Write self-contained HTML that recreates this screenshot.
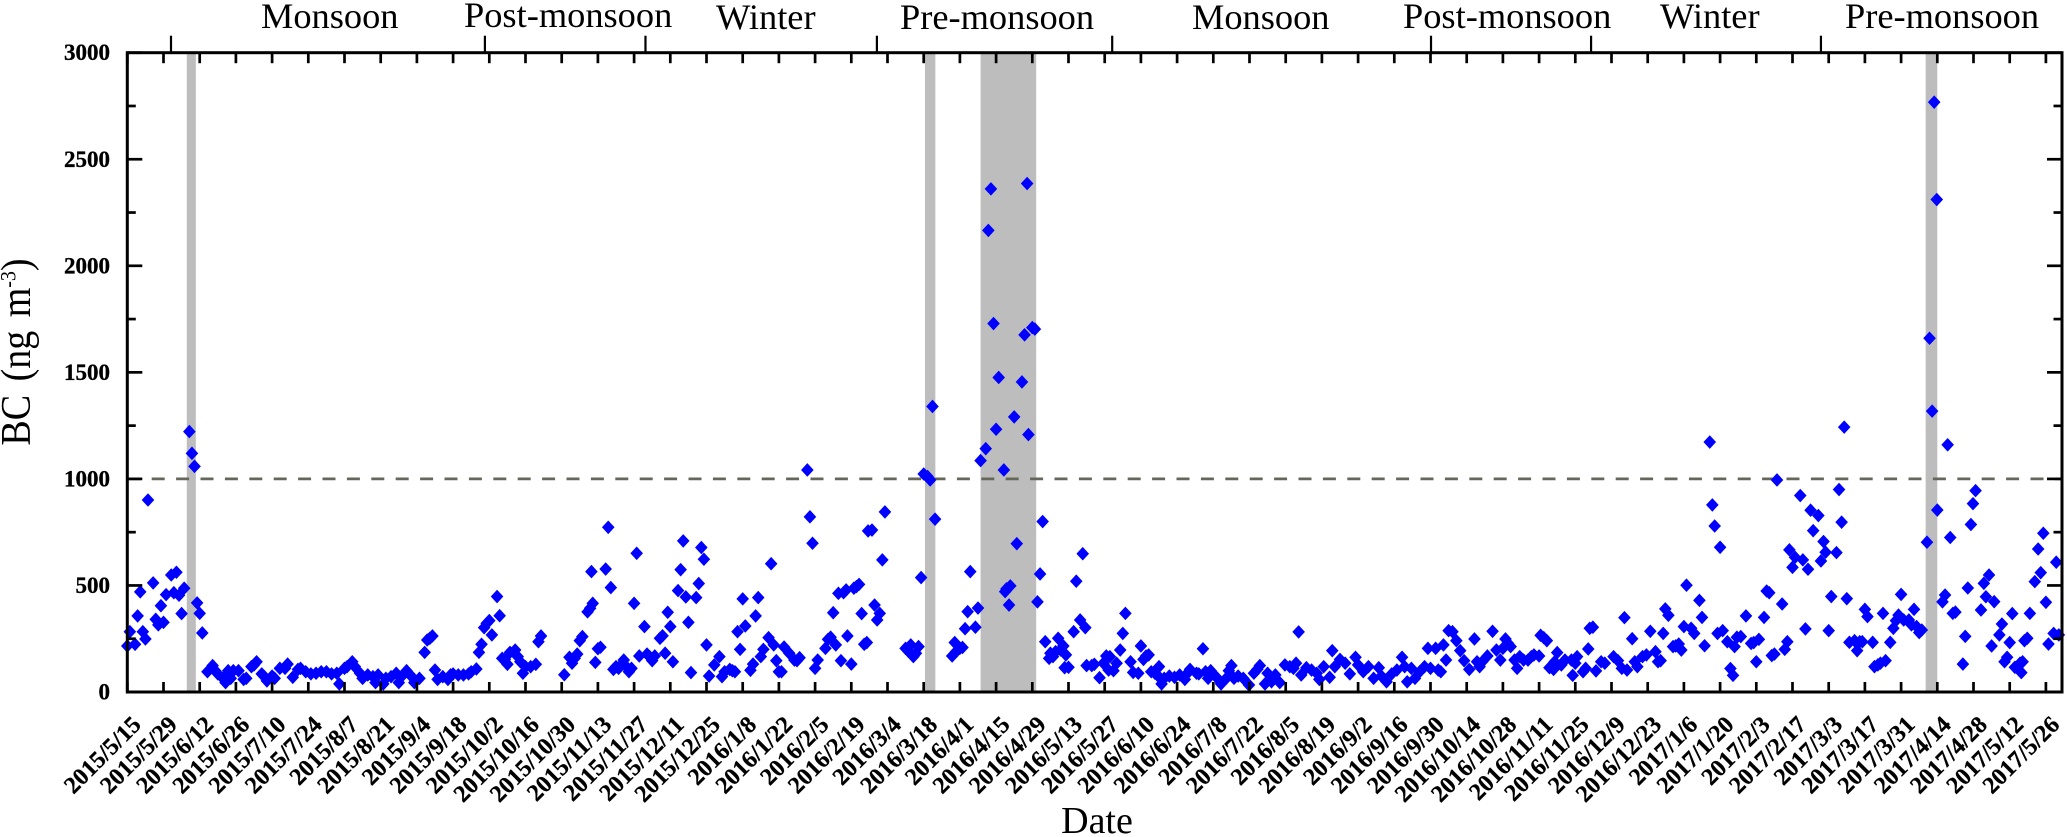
<!DOCTYPE html>
<html>
<head>
<meta charset="utf-8">
<title>BC time series</title>
<style>
html,body{margin:0;padding:0;background:#fff;}
svg{display:block;font-family:"Liberation Serif",serif;}
</style>
</head>
<body>
<svg id="chart" xmlns="http://www.w3.org/2000/svg" width="2067" height="837" viewBox="0 0 2067 837">
<g id="bands"></g>
<g id="threshold"></g>
<g id="points"></g>
<g id="axes"></g>
<g id="labels"></g>
<g font-size="36.4" fill="#000">
<text x="261" y="28">Monsoon</text>
<text x="464" y="27">Post-monsoon</text>
<text x="716" y="29">Winter</text>
<text x="900" y="29">Pre-monsoon</text>
<text x="1192" y="29">Monsoon</text>
<text x="1403" y="28">Post-monsoon</text>
<text x="1660" y="28">Winter</text>
<text x="1845" y="28">Pre-monsoon</text>
</g>
<text transform="translate(30,352) rotate(-90) scale(1,1.12)" text-anchor="middle" font-size="38" word-spacing="4" xml:space="preserve">BC (ng m<tspan font-size="20" dy="-13">-3</tspan><tspan dy="13">)</tspan></text>
<text x="1097" y="833" text-anchor="middle" font-size="38">Date</text>
</svg>
<script>
const days = [
0,1,3,4,5,6,7,8,10,11,12,13,14,15,17,18,19,20,21,22,24,25,26,27,28,29,
31,33,34,35,37,38,39,40,41,43,45,46,48,49,50,52,53,54,56,57,59,61,62,64,66,67,69,71,73,75,77,79,81,82,84,85,87,88,90,91,93,95,96,97,99,100,102,104,105,106,108,110,111,113,
115,116,117,118,119,120,122,124,125,126,128,130,132,133,135,
136,137,138,139,140,141,143,144,145,146,147,148,150,151,152,153,154,156,158,159,160,
169,171,172,173,174,175,176,178,179,179.5,180,181,182,183,185,186,187,
188,189,190,191,192,193,194,195,196,197,198,200,201,202,203,204,206,207,208,209,210,211,
213,214,215,216,217,218,220,221,222,223,224,225,227,229,230,231,233,234,235,236,237,238,239,
241,242,243,244,245,246,248,249,250,251,252,
253,254,256,258,259,260,263,264,265,266,267,270,271,272,273,274,
275,276,277,278,278.5,280,281,282,283,284,285,286,286.5,288,289,290,291,292,293,
301,302,303,304,305,306,307,308,309.5,310.5,311.4,312.4,
319,320,320.5,322,323,324,325,326,328,329,
330,332,333,334,335,336,337,339,339.5,340,341,341.5,343,344,346,347,348,348.5,350,351,
352,353,354,355,356.5,357,358,359,360,361,362,362.5,363,364,366,367,368.5,369.5,370.5,371,373,374,376,377.5,378.6,379.5,
380,381.4,382.6,384,385,386,388,389,391,392,393,394,395,396,397.4,
399,399.5,400,401,403,405,407,409,410,411,413.5,414.4,416,417,418,
419,421,423,425,426,427,428,429.6,431.6,433.8,435.7,437,438,440,441,
442.5,444,445.7,447.7,449.6,451,452,453,454,456,458,460,461,462.7,465,
466,467,469,471,472.8,475,476,478,480,482,484,485,487,489,491,
493,494,495,496.6,498,499.8,501.7,503,504,506,507,
508,509,510,511,512.5,514,515.5,517,519,521,522,523,524,526,528,
529.5,531,532,533,534,535,536.5,537.5,538.5,540,541.7,543,544,546,546.6,
547.8,549,550,551.6,552,553,554.6,556,558.5,559,560,560.7,563,564,565,
565.6,566.8,568,570,571.4,574.8,576.5,578,579,580,582,583,584,586,587.5,
589,591,592,593,594,594.8,596,597.8,598.8,600,601,602,603,604.8,606,
608,609,610,612,613,613.9,615,616,617,618.8,620,621,621.6,622.5,624,
626,628,629,630,631,633,634,635,636,637,638,640,641,642,642.8,
644,645,647,648,649,650,651,652,654,655,656,656.8,658,659,661,
662,663,664,665,666,668,669,670,671,672,673,675,675.7,677,678,
679,680,681.8,683,684,685,686,687,689,690,691,692,693,694,696,
697,698,698.8,699.8,700,702,703,704,705,706,707,709.9,710.8,711.8,713,
713.8,714.8,716.9,718,718.8,720,721,722,724,725,726,727,728,729,730,
732,732.5,733,733.7,734.8,735.8,737.7,739,740,741,742,743,745,746,747
];
const bcValues = [
216,283,224,357,470,283,249,901,512,341,315,405,327,457,549,466,562,454,368,487,1222,1120,1059,418,369,277,
95,124,100,85,64,44,100,64,100,100,59,64,119,127,142,85,72,52,75,64,111,111,131,69,106,111,95,85,88,95,95,85,88,38,111,119,142,119,88,64,80,72,44,80,38,64,72,88,44,72,100,72,44,64,
186,244,252,263,103,59,72,59,80,85,80,80,85,95,108,
186,224,302,322,335,268,448,358,158,153,130,186,197,166,142,88,119,119,130,236,263,
81,163,135,158,178,241,260,376,393,565,416,139,203,210,577,773,490,
106,119,111,127,150,119,95,111,416,651,169,307,178,166,147,169,252,264,182,374,307,142,
476,574,709,446,327,91,443,509,678,623,221,75,127,166,72,95,106,100,95,283,200,437,310,
102,131,357,443,166,200,255,602,221,147,95,
95,211,182,150,147,161,1042,822,698,111,150,205,247,257,372,221,
463,147,466,479,263,131,487,495,505,368,224,232,756,760,408,338,369,620,845,
205,192,221,166,182,213,537,1023,1011,995,1340,811,
169,232,189,205,209,297,377,565,304,394,
1086,1142,2166,2361,1729,1233,1476,1042,471,484,408,498,1291,696,1455,1676,2386,1208,1710,1703,
423,554,800,236,158,182,166,189,252,197,216,114,174,116,283,520,338,649,302,124,124,130,67,135,169,103,
166,100,135,197,275,369,142,92,88,216,153,169,174,95,88,
119,64,38,64,75,69,80,59,88,106,88,85,203,95,64,
100,72,38,64,100,124,64,75,64,33,88,106,124,38,88,
48,80,44,127,119,111,135,282,80,114,103,88,59,119,69,
194,119,153,135,85,163,127,95,119,64,114,75,48,85,103,
163,119,48,111,64,95,119,205,111,205,103,
95,221,150,288,283,241,194,147,106,249,142,119,142,169,285,
197,150,205,249,228,213,150,111,166,150,150,166,174,169,266,
255,241,114,106,142,185,127,150,150,78,135,166,95,111,202,
299,304,99,142,135,166,147,111,349,103,250,142,119,166,174,
285,189,142,147,275,390,360,213,216,225,197,307,501,299,275,
430,350,217,1173,878,779,275,679,288,236,110,78,213,257,260,
357,228,232,142,247,350,474,466,171,178,995,413,200,236,667,
585,632,922,620,296,576,853,757,828,615,706,656,288,448,654,
950,797,1243,438,233,241,194,236,236,388,354,233,119,127,135,
369,147,233,299,335,361,458,338,338,315,388,307,279,291,703,
1660,1318,2768,2311,854,423,455,1160,725,369,375,131,261,488,786,
884,945,385,510,447,549,216,424,268,319,142,163,232,368,116,
135,91,142,241,252,369,518,671,560,745,421,225,275,609,268
];
const dateLabels = ["2015/5/15","2015/5/29","2015/6/12","2015/6/26","2015/7/10","2015/7/24","2015/8/7","2015/8/21","2015/9/4","2015/9/18","2015/10/2","2015/10/16","2015/10/30","2015/11/13","2015/11/27","2015/12/11","2015/12/25","2016/1/8","2016/1/22","2016/2/5","2016/2/19","2016/3/4","2016/3/18","2016/4/1","2016/4/15","2016/4/29","2016/5/13","2016/5/27","2016/6/10","2016/6/24","2016/7/8","2016/7/22","2016/8/5","2016/8/19","2016/9/2","2016/9/16","2016/9/30","2016/10/14","2016/10/28","2016/11/11","2016/11/25","2016/12/9","2016/12/23","2017/1/6","2017/1/20","2017/2/3","2017/2/17","2017/3/3","2017/3/17","2017/3/31","2017/4/14","2017/4/28","2017/5/12","2017/5/26"];
const yMajorTicks = [0,500,1000,1500,2000,2500,3000];
const yMinorTicks = [250,750,1250,1750,2250,2750];
const seasonBoundaryDays = [16.9,138.3,200.4,289.9,380.9,504.2,566.1,655];
const eventBandStart = [23,308.5,330,695.5];
const eventBandEnd = [26.5,312.5,351.5,700];
const thresholdValue = 1000;

const NS = 'http://www.w3.org/2000/svg';
const L = 127.3, R = 2062, T = 52.7, B = 692;
const xOf = d => L + d * 36.2 / 14;
const yOf = v => B - v * (B - T) / 3000;
function mk(tag, parent, attrs) {
  const el = document.createElementNS(NS, tag);
  for (const k in attrs) el.setAttribute(k, attrs[k]);
  parent.appendChild(el);
  return el;
}
const bandsG = document.getElementById('bands');
const threshG = document.getElementById('threshold');
const pointsG = document.getElementById('points');
const axesG = document.getElementById('axes');
const labelsG = document.getElementById('labels');

eventBandStart.forEach((s, i) => {
  const x0 = xOf(s), x1 = xOf(eventBandEnd[i]);
  const r = mk('rect', bandsG, {x: x0, y: T - 1, width: x1 - x0, height: B - T + 1, fill: '#bdbdbd'});
  
  
});

const th = mk('line', threshG, {x1: L, x2: R, y1: yOf(thresholdValue), y2: yOf(thresholdValue), stroke: '#66665a', 'stroke-width': 2.8, 'stroke-dasharray': '13 11.4'});



days.forEach((d, i) => {
  const x = xOf(d), y = yOf(bcValues[i]);
  const hw = 6.3, hh = 6.8;
  const p = mk('polygon', pointsG, {points: `${x},${y - hh} ${x + hw},${y} ${x},${y + hh} ${x - hw},${y}`, fill: '#0000ff'});
  
  
});

const frame = mk('rect', axesG, {x: L, y: T, width: R - L, height: B - T, fill: 'none', stroke: '#000', 'stroke-width': 3});



dateLabels.forEach((lab, i) => {
  const x = xOf(i * 14);
  const t1 = mk('line', axesG, {x1: x, x2: x, y1: B, y2: B - 10, stroke: '#000', 'stroke-width': 2.7});
  
  
  const t2 = mk('line', axesG, {x1: x, x2: x, y1: T, y2: T + 10.5, stroke: '#000', 'stroke-width': 2.7});
  
  
  const ax = x + 15, ay = 726;
  const t = mk('text', labelsG, {x: 0, y: 0, transform: `translate(${ax},${ay}) rotate(-45)`, 'text-anchor': 'end', 'font-size': 24, 'font-weight': 'bold', fill: '#000', stroke: '#000', 'stroke-width': 0.3});
  t.textContent = lab;
  
  
});

seasonBoundaryDays.forEach(d => {
  const x = xOf(d);
  const t = mk('line', axesG, {x1: x, x2: x, y1: T, y2: T - 17, stroke: '#000', 'stroke-width': 2.2});
  
  
});

yMajorTicks.forEach(v => {
  const y = yOf(v);
  const a = mk('line', axesG, {x1: L, x2: L + 15, y1: y, y2: y, stroke: '#000', 'stroke-width': 2.7});
  
  
  const b = mk('line', axesG, {x1: R, x2: R - 15, y1: y, y2: y, stroke: '#000', 'stroke-width': 2.7});
  
  
  const t = mk('text', labelsG, {x: 110, y: y + 7.5, 'text-anchor': 'end', 'font-size': 23, 'font-weight': 'bold', fill: '#000', stroke: '#000', 'stroke-width': 0.3});
  t.textContent = String(v);
  
  
});
yMinorTicks.forEach(v => {
  const y = yOf(v);
  const a = mk('line', axesG, {x1: L, x2: L + 8.5, y1: y, y2: y, stroke: '#000', 'stroke-width': 2.7});
  
  
  const b = mk('line', axesG, {x1: R, x2: R - 8.5, y1: y, y2: y, stroke: '#000', 'stroke-width': 2.7});
  
  
});
</script>
</body>
</html>
